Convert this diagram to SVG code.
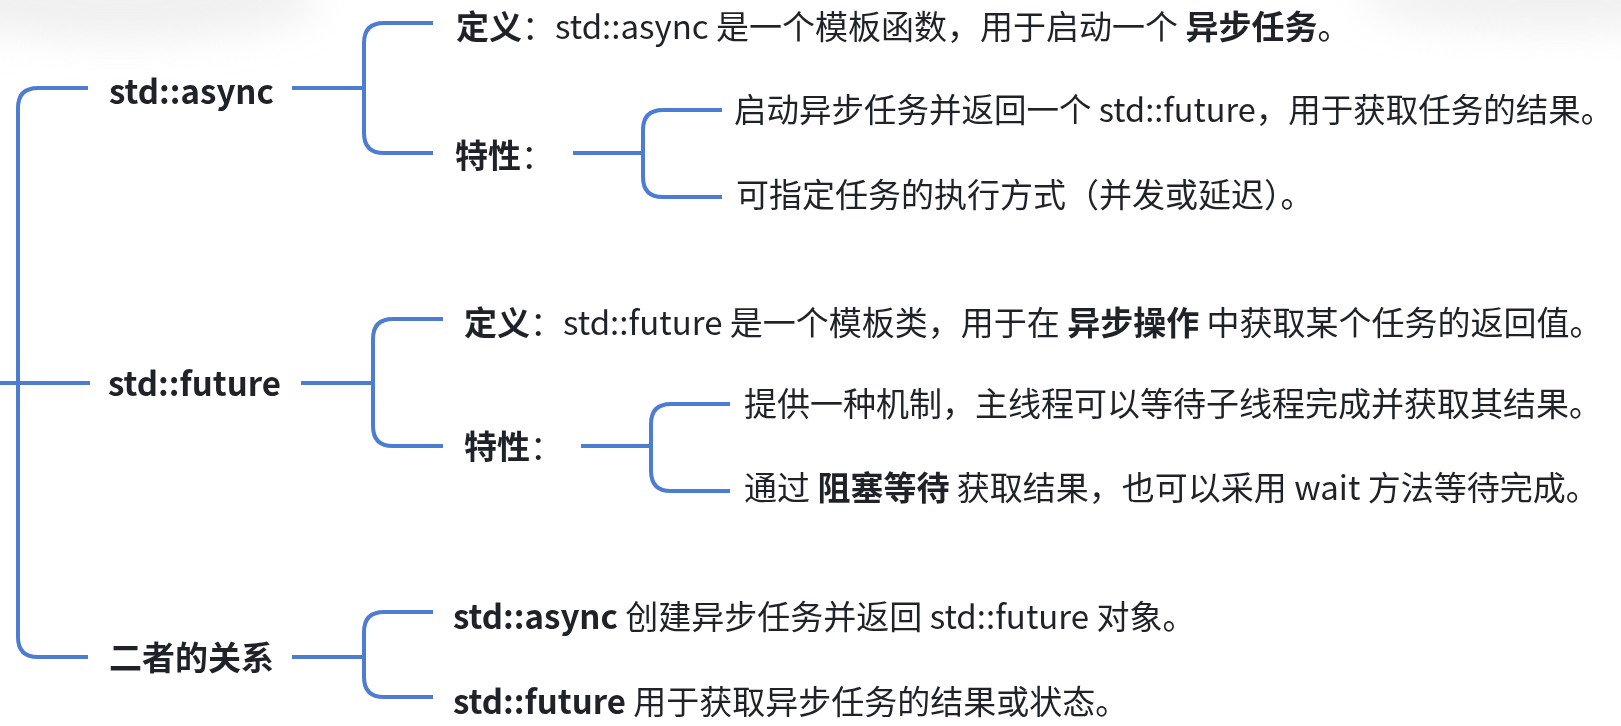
<svg xmlns="http://www.w3.org/2000/svg" width="1621" height="726" viewBox="0 0 1621 726">
<defs>
<filter id="blur" x="-50%" y="-50%" width="200%" height="200%"><feGaussianBlur stdDeviation="18"/></filter>
</defs>
<style>
.c{fill:none;stroke:#4d7dd3;stroke-width:4;stroke-linecap:butt}
.t{font-family:"Noto Sans CJK SC","Noto Sans",sans-serif;font-size:33px;fill:#1f2329}
.b{font-weight:bold}
.r{font-weight:normal}
</style>
<rect width="1621" height="726" fill="#ffffff"/>
<g id="shadows" opacity="0.6">
<ellipse cx="120" cy="0" rx="200" ry="40" fill="#e6e6e6" filter="url(#blur)"/>
<ellipse cx="1560" cy="0" rx="200" ry="30" fill="#e6e6e6" filter="url(#blur)"/>
</g>
<g id="connectors">
<path class="c" d="M0,383 H90"/>
<path class="c" d="M88,88 H38 Q18,88 18,108 V637 Q18,657 38,657 H88"/>
<path class="c" d="M292,88 H364"/>
<path class="c" d="M433,23 H384 Q364,23 364,43 V133 Q364,153 384,153 H433"/>
<path class="c" d="M573,153 H643"/>
<path class="c" d="M722,110 H663 Q643,110 643,130 V177 Q643,197 663,197 H722"/>
<path class="c" d="M301,383 H373"/>
<path class="c" d="M443,319 H393 Q373,319 373,339 V426 Q373,446 393,446 H443"/>
<path class="c" d="M581,446 H651"/>
<path class="c" d="M730,404 H671 Q651,404 651,424 V471 Q651,491 671,491 H730"/>
<path class="c" d="M292,657 H364"/>
<path class="c" d="M433,612 H384 Q364,612 364,632 V677 Q364,697 384,697 H433"/>
</g>
<g id="n-async"><text class="t b" x="109" y="104">std::async</text></g>
<g id="n-async-def"><text class="t" x="456" y="39"><tspan class="b">定义</tspan>：std::async 是一个模板函数，用于启动一个 <tspan class="b">异步任务</tspan>。</text></g>
<g id="n-async-feat"><text class="t b" x="455" y="168">特性<tspan class="r">：</tspan></text></g>
<g id="n-async-f1"><text class="t" x="734" y="122" style="font-size:32.5px">启动异步任务并返回一个 std::future，用于获取任务的结果。</text></g>
<g id="n-async-f2"><text class="t" x="736" y="207">可指定任务的执行方式（并发或延迟）。</text></g>
<g id="n-future"><text class="t b" x="108" y="396">std::future</text></g>
<g id="n-future-def"><text class="t" x="464" y="335"><tspan class="b">定义</tspan>：std::future 是一个模板类，用于在 <tspan class="b">异步操作</tspan> 中获取某个任务的返回值。</text></g>
<g id="n-future-feat"><text class="t b" x="464" y="459">特性<tspan class="r">：</tspan></text></g>
<g id="n-future-f1"><text class="t" x="744" y="416">提供一种机制，主线程可以等待子线程完成并获取其结果。</text></g>
<g id="n-future-f2"><text class="t" x="744" y="500">通过 <tspan class="b">阻塞等待</tspan> 获取结果，也可以采用 wait 方法等待完成。</text></g>
<g id="n-rel"><text class="t b" x="109" y="670">二者的关系</text></g>
<g id="n-rel-1"><text class="t" x="453" y="629"><tspan class="b">std::async</tspan> 创建异步任务并返回 std::future 对象。</text></g>
<g id="n-rel-2"><text class="t" x="453" y="714"><tspan class="b">std::future</tspan> 用于获取异步任务的结果或状态。</text></g>
</svg>
